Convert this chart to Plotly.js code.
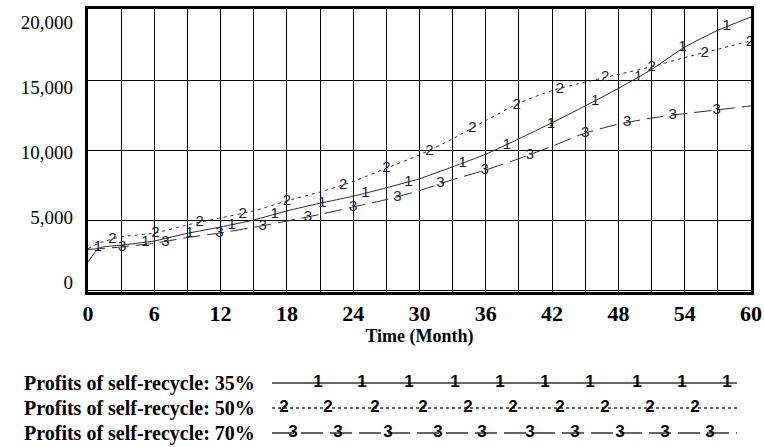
<!DOCTYPE html>
<html>
<head>
<meta charset="utf-8">
<script src="https://cdn.plot.ly/plotly-3.0.1.min.js"></script>
<style>html,body{margin:0;padding:0;background:#fff;}#chart{width:764px;height:447px;}</style>
</head>
<body>
<div id="chart"></div>
<script>
// ---- data ----
const months = [0,1,3,6,9,12,15,18,21,24,27,30,33,36,39,42,45,48,51,54,57,60];
const profit35 = [2000,3000,3200,3500,4050,4500,5000,5650,6200,6700,7300,7950,8800,9700,10800,11950,13150,14400,15750,17350,18550,19500];
const profit50 = [2950,3350,3800,4060,4650,5150,5650,6370,7000,7750,8700,9650,10800,12100,13350,14250,14850,15400,15950,16600,17200,17800];
const profit70 = [2900,2950,3070,3340,3750,4080,4480,4920,5400,5930,6460,7100,7880,8580,9380,10270,11210,11850,12280,12600,12870,13150];

// curve label positions
const label1T = [0.9,5.2,9.2,13,16.9,21.2,25.1,29,33.9,37.9,41.9,45.9,49.8,53.8,57.8];
const label1V = [3070,3430,4070,4640,5430,6210,6930,7710,9070,10320,11860,13460,15210,17320,18860];
const label2T = [2.2,6.1,10.1,14,18,23.1,27,30.9,34.8,38.8,42.7,46.8,51,55.8,59.9];
const label2V = [3640,4070,4860,5430,6360,7500,8710,9900,11540,13180,14360,15180,15930,16920,17720];
const label3T = [3.1,7.0,11.9,15.8,19.9,24,28,31.9,35.9,40,45,48.8,52.9,56.9];
const label3V = [3070,3430,4070,4570,5210,5930,6640,7640,8570,9640,11210,12000,12500,12860];

const seriesNames = ["Profits of self-recycle: 35%","Profits of self-recycle: 50%","Profits of self-recycle: 70%"];
const seriesTags = ["1","2","3"];

const xTickVals = [0,3,6,9,12,15,18,21,24,27,30,33,36,39,42,45,48,51,54,57,60];
const xTickText = ["0","","6","","12","","18","","24","","30","","36","","42","","48","","54","","60"];
const yTickVals = [0,5000,10000,15000,20000];
const yTickText = ["0","5,000","10,000","15,000","20,000"];

// legend sample geometry (legend axis units = pixels)
const legendRows = [383,408,433];
const legendLine = [272,737];
const legendMarks = [
  [318,362,409,455,500,545,590,637,682,727],
  [284,328,375,423,468,513,560,605,650,695],
  [293,338,388,438,482,530,575,620,665,710]
];

const dashes = ["solid","3px,4px","17px,7px"];
const legendDashes = ["solid","3px,3px","22px,7px"];
const lineColor = "#2a2a2a";
const tagColor = "#1c1c3a";

const allSeries = [profit35, profit50, profit70];
const labT = [label1T,label2T,label3T];
const labV = [label1V,label2V,label3V];

const traces = [];
allSeries.forEach((s,i)=>{
  traces.push({x:months,y:s,type:"scatter",mode:"lines",
    line:{color:lineColor,width:1,dash:dashes[i],shape:"spline",smoothing:0.5},
    hoverinfo:"skip",showlegend:false,xaxis:"x",yaxis:"y"});
});
allSeries.forEach((s,i)=>{
  traces.push({x:labT[i],y:labV[i],type:"scatter",mode:"text",
    text:labT[i].map(()=>seriesTags[i]),textposition:"middle center",
    textfont:{family:"Liberation Sans, Arial, sans-serif",size:15,color:tagColor},
    hoverinfo:"skip",showlegend:false,xaxis:"x",yaxis:"y",cliponaxis:false});
});
// dummy trace for the label axis
traces.push({x:[0],y:[0],type:"scatter",mode:"markers",marker:{opacity:0},hoverinfo:"skip",showlegend:false,xaxis:"x",yaxis:"y3"});
// legend samples
legendRows.forEach((r,i)=>{
  traces.push({x:legendLine,y:[r,r],type:"scatter",mode:"lines",
    line:{color:"#333",width:1.6,dash:legendDashes[i]},hoverinfo:"skip",showlegend:false,xaxis:"x2",yaxis:"y2"});
  traces.push({x:legendMarks[i],y:legendMarks[i].map(()=>r),type:"scatter",mode:"text",
    text:legendMarks[i].map(()=>seriesTags[i]),textposition:"middle center",
    textfont:{family:"Liberation Sans, Arial, sans-serif",size:17,color:"#000",weight:"bold"},
    hoverinfo:"skip",showlegend:false,xaxis:"x2",yaxis:"y2",cliponaxis:false});
});

const serif = "Liberation Serif, Times New Roman, serif";
const annotations = legendRows.map((r,i)=>({
  xref:"paper",yref:"y2",x:(22-88)/663,y:r,xanchor:"left",yanchor:"middle",
  text:seriesNames[i],showarrow:false,
  font:{family:serif,size:20,color:"#000",weight:"bold"}
}));

const layout = {
  width:764,height:447,
  margin:{l:88,r:13,t:9,b:5,pad:0},
  paper_bgcolor:"#fff",plot_bgcolor:"#fff",
  showlegend:false,
  xaxis:{domain:[0,1],range:[0,60],tickvals:xTickVals,ticktext:xTickText,
    showgrid:true,gridcolor:"#000",gridwidth:1,zeroline:false,
    showline:true,mirror:true,linecolor:"#000",linewidth:3,ticks:"",
    tickfont:{family:serif,size:22,color:"#000",weight:"bold"},
    title:{text:"Time (Month)",font:{family:serif,size:18,color:"#000",weight:"bold"},standoff:4},
    anchor:"y",fixedrange:true},
  yaxis:{domain:[(442-292)/433,1],range:[-143,20071],tickvals:yTickVals,
    showgrid:true,gridcolor:"#000",gridwidth:1,zeroline:false,
    showline:true,mirror:true,linecolor:"#000",linewidth:3,ticks:"",
    showticklabels:false,anchor:"x",fixedrange:true},
  yaxis3:{overlaying:"y",side:"left",range:[-769,21000],tickvals:yTickVals,ticktext:yTickText,
    showgrid:false,zeroline:false,showline:false,ticks:"",ticklabelstandoff:14,
    tickfont:{family:serif,size:19,color:"#000"},anchor:"x",fixedrange:true},
  xaxis2:{domain:[(272-88)/663,(737-88)/663],range:[legendLine[0],legendLine[1]],visible:false,anchor:"y2",fixedrange:true},
  yaxis2:{domain:[0,(442-370)/433],range:[442,370],visible:false,anchor:"x2",fixedrange:true},
  annotations:annotations
};

Plotly.newPlot("chart",traces,layout,{staticPlot:true,displayModeBar:false});
</script>
</body>
</html>
